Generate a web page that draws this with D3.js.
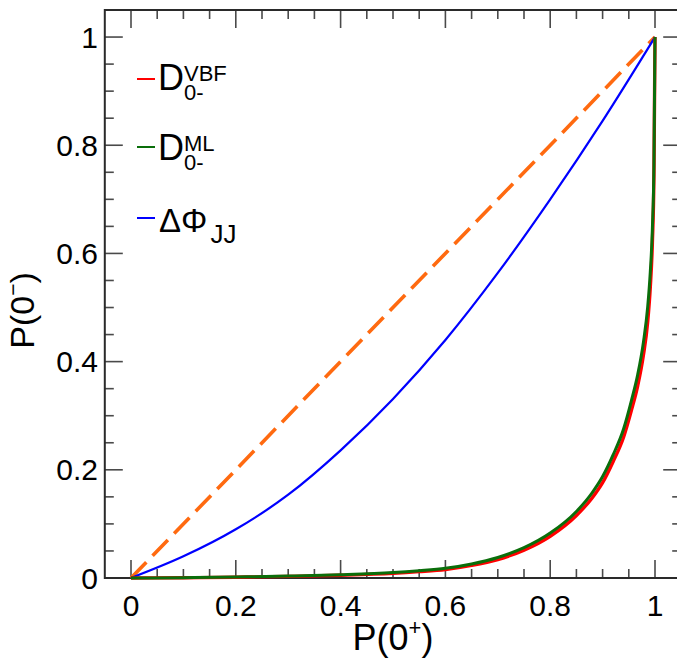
<!DOCTYPE html>
<html>
<head>
<meta charset="utf-8">
<script src="https://cdn.jsdelivr.net/npm/d3@7"></script>
<style>
  html, body { margin: 0; padding: 0; background: #fff; }
  svg { display: block; font-family: "Liberation Sans", Arial, sans-serif; }
</style>
</head>
<body>
<svg id="chart" width="677" height="659"></svg>
<script>
// Axis ticks
const xMajor = [0, 0.2, 0.4, 0.6, 0.8, 1];
const xMajorLabels = ["0", "0.2", "0.4", "0.6", "0.8", "1"];
const yMajor = [0, 0.2, 0.4, 0.6, 0.8, 1];
const yMajorLabels = ["0", "0.2", "0.4", "0.6", "0.8", "1"];

// Diagonal reference P(0-) = P(0+)
const diagX = [0, 1];
const diagY = [0, 1];

// ΔΦ_JJ
const phiX = [0, 0.1, 0.2, 0.3, 0.4, 0.5, 0.6, 0.7, 0.8, 0.9, 1];
const phiY = [0, 0.04, 0.09, 0.154, 0.236, 0.331, 0.44, 0.564, 0.70, 0.845, 1];

// D_0- (VBF) and D_0- (ML)
const dX   = [0, 0.1, 0.2, 0.3, 0.4, 0.5, 0.55, 0.6, 0.65, 0.7, 0.75, 0.8, 0.85, 0.88, 0.9, 0.92, 0.94, 0.955, 0.967, 0.978, 0.986, 0.991, 0.995, 0.998, 1];
const mlY  = [0, 0.0006, 0.0018, 0.0035, 0.006, 0.010, 0.0135, 0.018, 0.026, 0.038, 0.056, 0.083, 0.123, 0.1575, 0.1875, 0.2275, 0.2755, 0.328, 0.376, 0.4365, 0.5005, 0.5655, 0.6455, 0.7655, 1];
const vbfY = [0, 0.0005, 0.0015, 0.003, 0.005, 0.0085, 0.0117, 0.0158, 0.0234, 0.0342, 0.0515, 0.0772, 0.1156, 0.148, 0.1763, 0.215, 0.2603, 0.31, 0.3553, 0.4125, 0.473, 0.537, 0.62, 0.746, 1];

const svg = d3.select("#chart");
const x = d3.scaleLinear().domain([-0.05, 1.05]).range([104.8, 681.2]);
const y = d3.scaleLinear().domain([0, 1.05]).range([578, 10]);

const frameColor = "#2a2a2a";
const tickColor = "#4a4a4a";

// Minor / major ticks on all four sides
const minor = d3.range(0, 21).map(i => i * 0.05);
const isMajor = v => Math.abs(v * 5 - Math.round(v * 5)) < 1e-6;
const ticks = svg.append("g").attr("stroke", tickColor).attr("stroke-width", 1.6);
minor.forEach(v => {
  const len = isMajor(v) ? 18 : 9;
  ticks.append("line").attr("x1", x(v)).attr("x2", x(v)).attr("y1", y(0)).attr("y2", y(0) - len);
  ticks.append("line").attr("x1", x(v)).attr("x2", x(v)).attr("y1", y(1.05)).attr("y2", y(1.05) + len);
  ticks.append("line").attr("y1", y(v)).attr("y2", y(v)).attr("x1", x(-0.05)).attr("x2", x(-0.05) + len);
  ticks.append("line").attr("y1", y(v)).attr("y2", y(v)).attr("x1", x(1.05)).attr("x2", x(1.05) - len);
});

// Frame
svg.append("rect")
  .attr("x", x(-0.05)).attr("y", y(1.05))
  .attr("width", x(1.05) - x(-0.05)).attr("height", y(0) - y(1.05))
  .attr("fill", "none").attr("stroke", frameColor).attr("stroke-width", 2);

// Tick labels
const lab = svg.append("g").attr("font-size", 30).attr("fill", "#000");
xMajor.forEach((v, i) => {
  lab.append("text").attr("x", x(v)).attr("y", 605).attr("text-anchor", "middle")
    .attr("dominant-baseline", "central").text(xMajorLabels[i]);
});
yMajor.forEach((v, i) => {
  lab.append("text").attr("x", 98).attr("y", y(v)).attr("text-anchor", "end")
    .attr("dominant-baseline", "central").text(yMajorLabels[i]);
});

// Axis titles
const xt = svg.append("text").attr("x", x(0.5)).attr("y", 650).attr("text-anchor", "middle")
  .attr("font-size", 36);
xt.append("tspan").text("P(0");
xt.append("tspan").attr("font-size", 22).attr("dy", -15).text("+");
xt.append("tspan").attr("dy", 15).text(")");

const yt = svg.append("text").attr("transform", `translate(34,${y(0.5) + 3}) rotate(-90)`)
  .attr("text-anchor", "middle").attr("font-size", 34);
yt.append("tspan").text("P(0");
yt.append("tspan").attr("font-size", 21).attr("dy", -14).text("\u2212");
yt.append("tspan").attr("dy", 14).text(")");

// Curves
const zip = (xs, ys) => xs.map((v, i) => [v, ys[i]]);
const line = d3.line().x(d => x(d[0])).y(d => y(d[1])).curve(d3.curveMonotoneX);
const straight = d3.line().x(d => x(d[0])).y(d => y(d[1]));

svg.append("path").attr("d", straight(zip(diagX, diagY)))
  .attr("fill", "none").attr("stroke", "#ff6a10").attr("stroke-width", 3.6)
  .attr("stroke-dasharray", "22,9");

svg.append("path").attr("d", line(zip(phiX, phiY)))
  .attr("fill", "none").attr("stroke", "#0000ff").attr("stroke-width", 2.2);

svg.append("path").attr("d", line(zip(dX, vbfY)))
  .attr("fill", "none").attr("stroke", "#ff0000").attr("stroke-width", 3.4);

svg.append("path").attr("d", line(zip(dX, mlY)))
  .attr("fill", "none").attr("stroke", "#0a6e0a").attr("stroke-width", 3);

// Legend
const legend = svg.append("g");
const entries = [
  { color: "#ff0000", y: 79, base: 90, sup: "VBF" },
  { color: "#0a6e0a", y: 147, base: 160, sup: "ML" }
];
entries.forEach(e => {
  legend.append("line").attr("x1", 137).attr("x2", 155).attr("y1", e.y).attr("y2", e.y)
    .attr("stroke", e.color).attr("stroke-width", 2);
  legend.append("text").attr("x", 158).attr("y", e.base).attr("font-size", 36).text("D");
  legend.append("text").attr("x", 184).attr("y", e.base - 9).attr("font-size", 22).text(e.sup);
  legend.append("text").attr("x", 184).attr("y", e.base + 10).attr("font-size", 22).text("0-");
});
legend.append("line").attr("x1", 137).attr("x2", 155).attr("y1", 218).attr("y2", 218)
  .attr("stroke", "#0000ff").attr("stroke-width", 2);
const phiText = legend.append("text").attr("x", 159).attr("y", 232).attr("font-size", 33);
phiText.append("tspan").text("\u0394\u03A6");
phiText.append("tspan").attr("font-size", 26).attr("dy", 11).attr("dx", 3).text("JJ");
</script>
</body>
</html>
